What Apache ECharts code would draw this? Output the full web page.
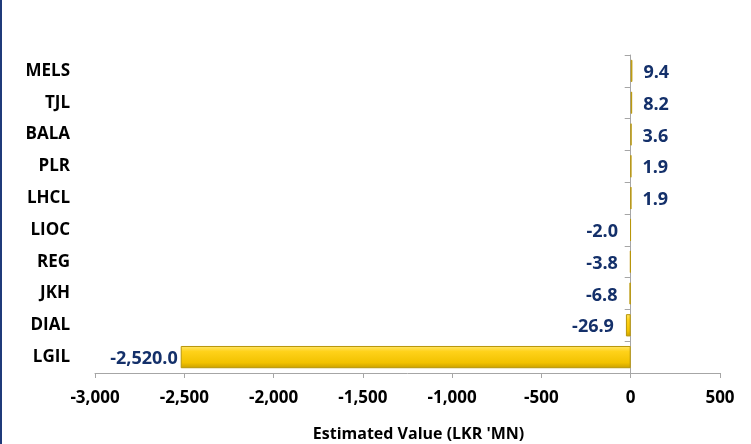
<!DOCTYPE html>
<html>
<head>
<meta charset="utf-8">
<script src="https://cdn.jsdelivr.net/npm/echarts@6/dist/echarts.min.js"></script>
<style>html,body{margin:0;padding:0;background:#fff}#c{width:751px;height:444px}</style>
</head>
<body>
<div id="c"></div>
<script>
const categories = ['MELS','TJL','BALA','PLR','LHCL','LIOC','REG','JKH','DIAL','LGIL'];
const values = [9.4, 8.2, 3.6, 1.9, 1.9, -2.0, -3.8, -6.8, -26.9, -2520.0];
const xMin = -3000, xMax = 500, xStep = 500;
const axisTitle = "Estimated Value (LKR 'MN)";

const fmt1 = v => v.toLocaleString('en-US', {minimumFractionDigits:1, maximumFractionDigits:1});
const fmt0 = v => v.toLocaleString('en-US');
const FONT = '"Open Sans", "Noto Sans", sans-serif';

const chart = echarts.init(document.getElementById('c'), null, {renderer:'canvas'});
const barGrad = new echarts.graphic.LinearGradient(0,0,0,1,[
  {offset:0, color:'#FFE66A'},
  {offset:0.25, color:'#FFD21A'},
  {offset:0.75, color:'#F2C200'},
  {offset:1, color:'#C9A000'}
]);
chart.setOption({
  animation:false,
  graphic:[{type:'rect', shape:{x:0,y:0,width:2,height:444}, style:{fill:'#1F3A7A'}}],
  grid:{left:95, right:31, top:55, bottom:71, containLabel:false, outerBoundsMode:'none'},
  xAxis:{
    type:'value', min:xMin, max:xMax, interval:xStep,
    axisLine:{show:true, lineStyle:{color:'#A6A6A6'}},
    axisTick:{show:true, length:5, lineStyle:{color:'#A6A6A6'}},
    splitLine:{show:false},
    axisLabel:{color:'#000', fontWeight:'bold', fontSize:17, fontFamily:FONT, margin:17, formatter:fmt0},
    name:axisTitle, nameLocation:'middle', nameGap:53,
    nameTextStyle:{color:'#000', fontWeight:'bold', fontSize:16, fontFamily:FONT, padding:[0,0,0,22]}
  },
  yAxis:[{
    type:'category', data:categories, inverse:true,
    axisLine:{show:true, onZero:true, lineStyle:{color:'#A6A6A6'}},
    axisTick:{show:true, length:6, lineStyle:{color:'#A6A6A6'}},
    axisLabel:{show:false}
  },{
    type:'category', data:categories, inverse:true, position:'left',
    axisLine:{show:false, onZero:false}, axisTick:{show:false},
    axisLabel:{color:'#000', fontWeight:'bold', fontSize:17, fontFamily:FONT, margin:25, padding:[4,0,0,0]}
  }],
  series:[{
    type:'bar', yAxisIndex:0, barWidth:'70%',
    data: values.map(v => ({
      value:v,
      label:{show:true, position: v>=0 ? 'right' : 'left', distance: v>=0 ? 11 : (v < -1000 ? 3 : 12)}
    })),
    itemStyle:{color:barGrad, borderColor:'#B8960A', borderWidth:1},
    label:{color:'#14306A', fontWeight:'bold', fontSize:18, fontFamily:FONT, offset:[0,2], formatter:p=>fmt1(p.value)}
  }]
});
</script>
</body>
</html>
